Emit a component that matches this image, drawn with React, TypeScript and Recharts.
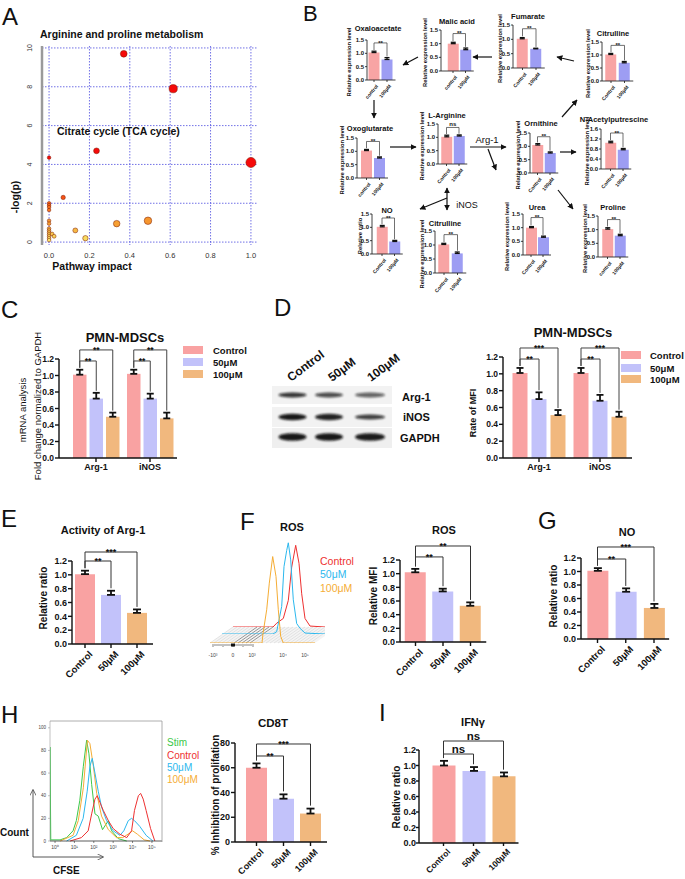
import React from "react";
import {
  BarChart,
  Bar,
  XAxis,
  YAxis,
  Cell,
  ErrorBar,
  ReferenceLine,
  ScatterChart,
  Scatter,
  ZAxis,
  CartesianGrid,
  LineChart,
  Line,
} from "recharts";

const FONT = '"Liberation Sans", Arial, Helvetica, sans-serif';
const INK = "#111";

// ---------- A: pathway impact ----------
const aImpact = [0.37, 0.615, 0.235, 1.0, 0, 0.07, 0, 0, 0, 0, 0, 0, 0, 0, 0, 0, 0, 0, 0, 0.015, 0.025, 0.13, 0.18, 0.335, 0.49];
const aLogP = [9.7, 7.9, 4.7, 4.1, 4.35, 2.3, 2.0, 1.9, 1.8, 1.65, 1.1, 0.95, 0.7, 0.6, 0.5, 0.4, 0.3, 0.2, 0.1, 0.42, 0.3, 0.6, 0.2, 0.95, 1.1];
const aXTicks = [0, 0.2, 0.4, 0.6, 0.8, 1.0];
const aYTicks = [0, 2, 4, 6, 8, 10];

// ---------- B: metabolite map ----------
const bTitles = ["Oxaloacetate", "Malic acid", "Fumarate", "Citrulline", "Oxoglutarate", "L-Arginine", "Ornithine", "N-Acetylputrescine", "NO", "Citrulline", "Urea", "Proline"];
const bCtrlLabel = ["control", "control", "Control", "Control", "control", "Control", "Control", "Control", "Control", "Control", "Control", "control"];
const bCtrl = [1.03, 1.0, 1.02, 1.02, 1.03, 1.02, 1.05, 1.05, 1.02, 1.02, 1.0, 1.02];
const bCtrlErr = [0.05, 0.05, 0.04, 0.04, 0.04, 0.06, 0.05, 0.06, 0.05, 0.04, 0.04, 0.05];
const bTrt = [0.77, 0.78, 0.67, 0.7, 0.75, 1.05, 0.75, 0.77, 0.47, 0.7, 0.65, 0.78];
const bTrtErr = [0.07, 0.06, 0.02, 0.05, 0.04, 0.04, 0.04, 0.05, 0.04, 0.05, 0.04, 0.05];
const bSig = ["**", "**", "**", "**", "**", "ns", "**", "**", "**", "**", "**", "**"];
const bSigLevel = [1.39, 1.37, 1.37, 1.37, 1.37, 1.37, 1.36, 1.44, 1.35, 1.37, 1.37, 1.37];
const bYLabel = bTitles.map((t) => (t === "NO" ? "Relative ratio" : "Relative expression level"));
const bTicks15 = [0, 0.5, 1.0, 1.5];
const bTicks16 = [0, 0.4, 0.8, 1.2, 1.6];
const bLayout = [
  { x0: 367, top: 40, zero: 80, c0: 374, step: 13, tx: 378, ty: 28, lx: 349 },
  { x0: 441, top: 30, zero: 71, c0: 453, step: 12.5, tx: 457, ty: 21, lx: 425 },
  { x0: 513, top: 25, zero: 68, c0: 522.5, step: 13.5, tx: 528, ty: 16, lx: 500 },
  { x0: 602, top: 42, zero: 81, c0: 611, step: 13.5, tx: 613, ty: 33, lx: 588 },
  { x0: 357, top: 138, zero: 178, c0: 366.5, step: 13, tx: 370, ty: 128, lx: 342 },
  { x0: 438, top: 124, zero: 164, c0: 446.5, step: 12.5, tx: 447, ty: 115, lx: 422 },
  { x0: 530, top: 133, zero: 173, c0: 537.5, step: 12.5, tx: 541, ty: 123, lx: 518 },
  { x0: 601, top: 129, zero: 169, c0: 610.5, step: 12.5, tx: 614, ty: 119, lx: 587 },
  { x0: 372, top: 214, zero: 254, c0: 382, step: 12.5, tx: 387, ty: 210, lx: 360 },
  { x0: 435, top: 231, zero: 273, c0: 444, step: 13.5, tx: 445, ty: 223, lx: 422 },
  { x0: 523, top: 214, zero: 255, c0: 531, step: 12, tx: 537, ty: 207, lx: 507 },
  { x0: 598, top: 216, zero: 257, c0: 607.5, step: 12.5, tx: 613, ty: 207, lx: 585 },
];
const bArrows = [
  [418, 57, 403, 65],
  [492, 57, 473, 57],
  [574, 61, 557, 57],
  [374, 100, 374, 118],
  [390, 147, 416, 147],
  [470, 147, 506, 147],
  [488, 149, 496, 170],
  [562, 117, 577, 100],
  [560, 152, 576, 152],
  [558, 190, 573, 209],
  [447, 198, 420, 209],
  [447, 198, 447, 188],
  [447, 198, 447, 210],
];

// ---------- shared doses ----------
const doses = ["Control", "50μM", "100μM"];
const doseColors = ["#f9a2a2", "#c2c2fa", "#f1b87e"];
const bColors = ["#f8a4a4", "#9d9df3"];
const ticks12 = [0, 0.2, 0.4, 0.6, 0.8, 1.0, 1.2];

// ---------- C: mRNA ----------
const genes = ["Arg-1", "iNOS"];
const cCtrl = [1.01, 1.02];
const c50 = [0.72, 0.72];
const c100 = [0.5, 0.48];
const cCtrlErr = [0.06, 0.05];
const c50Err = [0.07, 0.06];
const c100Err = [0.05, 0.07];
const cSigLevels = [1.176, 1.31];
const cSigTexts = [["**", "**"], ["**", "**"]];

// ---------- D: MFI + blot ----------
const dCtrl = [1.01, 1.01];
const d50 = [0.7, 0.68];
const d100 = [0.51, 0.49];
const dCtrlErr = [0.06, 0.06];
const d50Err = [0.08, 0.07];
const d100Err = [0.06, 0.06];
const dSigLevels = [1.176, 1.307];
const dSigTexts = [["**", "***"], ["**", "***"]];
const blotRows = ["Arg-1", "iNOS", "GAPDH"];
const blotArg1 = [0.82, 0.72, 0.62];
const blotInos = [0.95, 0.9, 0.78];
const blotGapdh = [0.95, 0.95, 0.93];

// ---------- E / F / G / H / I ----------
const eVals = [1.01, 0.71, 0.45];
const eErr = [0.05, 0.06, 0.05];
const rosVals = [1.02, 0.74, 0.53];
const rosErr = [0.05, 0.04, 0.05];
const noVals = [1.01, 0.7, 0.46];
const noErr = [0.04, 0.05, 0.06];
const cd8Vals = [60, 35, 23];
const cd8Err = [3.5, 3.5, 4];
const ifnVals = [1.0, 0.93, 0.86];
const ifnErr = [0.06, 0.05, 0.05];

// ROS offset histogram layers (channel, % of max)
const rosRedX = [0, 40, 43.7, 50.3, 55.3, 58.7, 62.7, 66, 68.7, 72, 77, 92];
const rosRedY = [0, 0, 4, 9, 28, 63, 86, 67, 35, 9, 1, 0];
const rosCyanX = [0, 51, 54.7, 59.7, 62, 64.7, 66.3, 68.7, 71.3, 74.7, 78, 83, 103];
const rosCyanY = [0, 0, 2.5, 29, 71, 88, 96, 78, 36, 11, 6, 1, 0];
const rosOrangeX = [0, 52, 53, 56.7, 59.3, 62.7, 66, 68.3, 70.7, 73.3, 105];
const rosOrangeY = [0, 0, 10, 35, 63, 91, 70, 35, 7, 0, 0];

// CFSE histograms (log10 fluorescence, count)
const stimX = [-0.26, -0.26, -0.22, 0.26, 0.6, 0.93, 1.1, 1.28, 1.46, 1.63, 1.75, 1.89, 2.06, 2.23, 2.45, 2.75, 2.92, 3.27, 3.7];
const stimY = [0, 83, 1, 1, 3, 9, 18, 36, 66, 89, 77, 50, 24, 22, 10, 18, 9, 2, 0];
const ctrlX = [0.78, 1.36, 1.71, 1.89, 2.06, 2.18, 2.32, 2.49, 2.75, 3.0, 3.35, 3.7, 3.95, 4.1, 4.3, 4.42, 4.55, 4.7, 4.93, 5.15];
const ctrlY = [0, 3, 9, 24, 37, 40, 34, 27, 18, 11, 6, 3, 9, 27, 40, 42, 37, 27, 11, 0];
const m50X = [0.6, 1.1, 1.45, 1.66, 1.8, 1.92, 2.06, 2.23, 2.4, 2.66, 3.0, 3.35, 3.55, 3.78, 3.95, 4.1, 4.37, 4.7, 5.05];
const m50Y = [0, 5, 20, 44, 66, 73, 60, 44, 30, 18, 9, 5, 9, 18, 20, 18, 13, 5, 0];
const m100X = [0.26, 0.93, 1.2, 1.46, 1.67, 1.8, 1.98, 2.15, 2.4, 2.75, 3.17, 3.5, 3.85, 4.0, 4.25, 4.6, 4.9];
const m100Y = [0, 5, 18, 47, 89, 86, 66, 42, 22, 10, 3, 3, 7, 9, 6, 1, 0];
const sup = ["⁰", "¹", "²", "³", "⁴", "⁵"];

const flowRed = "#ee3030";
const flowCyan = "#2bb8ee";
const flowOrange = "#f5ad35";
const flowGreen = "#3cc84a";

function impactColor(y: number) {
  const t = Math.min(1, Math.pow(y / 4, 0.6));
  const h = 58 * (1 - t);
  const l = 50 + 25 * (1 - t) * (1 - t);
  return `hsl(${h}, 92%, ${l}%)`;
}

function sigText(x: number, yl: number, text: string, fs: number) {
  const star = text.includes("*");
  return (
    <text x={x} y={star ? yl - 1 + 0.45 * fs : yl - 1.5} textAnchor="middle" fontSize={fs} fontWeight="bold" fill={INK}>
      {text}
    </text>
  );
}

function RotTick(props: any) {
  const { x, y, payload, fsz, rot } = props;
  return (
    <g transform={`translate(${x + fsz * 0.35},${y + 2}) rotate(${rot})`}>
      <text x={0} y={0} dy={fsz * 0.72} textAnchor="end" fontSize={fsz} fontWeight="bold" fill={INK}>
        {payload.value}
      </text>
    </g>
  );
}

function SigBars(props: any) {
  const {
    x0, yTop, yZero, c0, step, padR = 2, cats, vals, errs, colors, ticks, dec = 1,
    tickFs, catFs, rot, sigPairs, sigLevels, sigTexts, sigFs, barSize, capW,
    tickSize = 4, yTickMargin = 1, axisW = 1.4, capStroke = 1.8, gap = 0.03, bracketW = 1,
  } = props;
  const AX = 40;
  const PT = 24;
  const XH = 55;
  const n = cats.length;
  const padL = c0 - x0 - step / 2;
  const plotW = padL + step * n + padR;
  const top = ticks[ticks.length - 1];
  const data = cats.map((c: string, i: number) => ({ cat: c, v: vals[i], e: [0, errs[i]] }));
  const lp = { stroke: "#333", strokeWidth: bracketW, ifOverflow: "visible" as const };
  return (
    <div style={{ position: "absolute", left: x0 - AX, top: yTop - PT }}>
      <BarChart
        width={AX + plotW + 4}
        height={PT + (yZero - yTop) + XH}
        data={data}
        margin={{ top: PT, right: 4, bottom: 0, left: 0 }}
      >
        <XAxis
          dataKey="cat"
          interval={0}
          padding={{ left: padL, right: padR }}
          height={XH}
          axisLine={{ stroke: INK, strokeWidth: axisW }}
          tickLine={{ stroke: INK, strokeWidth: axisW }}
          tickSize={tickSize}
          tickMargin={0}
          tick={<RotTick fsz={catFs} rot={rot} />}
        />
        <YAxis
          width={AX}
          domain={[0, top]}
          ticks={ticks}
          interval={0}
          tickFormatter={(v: number) => v.toFixed(dec)}
          axisLine={{ stroke: INK, strokeWidth: axisW }}
          tickLine={{ stroke: INK, strokeWidth: axisW }}
          tickSize={tickSize}
          tickMargin={yTickMargin}
          tick={{ fontSize: tickFs, fontWeight: "bold", fill: INK }}
        />
        <Bar dataKey="v" barSize={barSize} isAnimationActive={false}>
          {cats.map((c: string, i: number) => (
            <Cell key={c} fill={colors[i]} />
          ))}
          <ErrorBar dataKey="e" width={capW} strokeWidth={capStroke} stroke={INK} direction="y" />
        </Bar>
        {sigPairs.map(([a, b]: number[], k: number) => {
          const lv = sigLevels[k];
          return [
            <ReferenceLine
              key={`h${k}`}
              segment={[{ x: cats[a], y: lv }, { x: cats[b], y: lv }]}
              {...lp}
              label={(l: any) => {
                const vb = l.viewBox || {};
                return sigText(vb.x + (vb.width || 0) / 2, vb.y, sigTexts[k], sigFs);
              }}
            />,
            <ReferenceLine key={`l${k}`} segment={[{ x: cats[a], y: lv }, { x: cats[a], y: vals[a] + errs[a] + top * gap }]} {...lp} />,
            <ReferenceLine key={`r${k}`} segment={[{ x: cats[b], y: lv }, { x: cats[b], y: vals[b] + errs[b] + top * gap }]} {...lp} />,
          ];
        })}
      </BarChart>
    </div>
  );
}

function GroupBars(props: any) {
  const { x0, yTop, yZero, c0, band, padR, vals, errs, sigLevels, sigTexts, barSize, barGap } = props;
  const AX = 40;
  const PT = 24;
  const XH = 22;
  const padL = c0 - x0 - band / 2;
  const plotW = padL + band * genes.length + padR;
  const data = genes.map((g, gi) => {
    const row: any = { cat: g };
    vals.forEach((v: number[], si: number) => {
      row["s" + si] = v[gi];
      row["e" + si] = [0, errs[si][gi]];
    });
    return row;
  });
  const bracketShape = (bp: any) => {
    const { x, y, width, height, index } = bp;
    const per = height / vals[0][index];
    const base = y + height;
    const Y = (v: number) => base - v * per;
    const cx = x + width / 2;
    const stepPx = width + barGap;
    return (
      <g>
        <rect x={x} y={y} width={width} height={height} fill={doseColors[0]} />
        {sigLevels.map((lv: number, k: number) => {
          const j = k + 1;
          const cj = cx + stepPx * j;
          const yl = Y(lv);
          const yc = Y(vals[0][index] + errs[0][index]) - 2;
          const yj = Y(vals[j][index] + errs[j][index]) - 2;
          return (
            <g key={k}>
              <polyline points={`${cx},${yc} ${cx},${yl} ${cj},${yl} ${cj},${yj}`} fill="none" stroke="#444" strokeWidth={1} />
              {sigText((cx + cj) / 2, yl, sigTexts[index][k], 8.5)}
            </g>
          );
        })}
      </g>
    );
  };
  return (
    <div style={{ position: "absolute", left: x0 - AX, top: yTop - PT }}>
      <BarChart
        width={AX + plotW + 2}
        height={PT + (yZero - yTop) + XH}
        data={data}
        barGap={barGap}
        margin={{ top: PT, right: 2, bottom: 0, left: 0 }}
      >
        <XAxis
          dataKey="cat"
          interval={0}
          padding={{ left: padL, right: padR }}
          height={XH}
          axisLine={{ stroke: INK, strokeWidth: 1.4 }}
          tickLine={{ stroke: INK, strokeWidth: 1.4 }}
          tickSize={4}
          tick={{ fontSize: 9, fontWeight: "bold", fill: INK }}
        />
        <YAxis
          width={AX}
          domain={[0, 1.2]}
          ticks={ticks12}
          interval={0}
          tickFormatter={(v: number) => v.toFixed(1)}
          axisLine={{ stroke: INK, strokeWidth: 1.4 }}
          tickLine={{ stroke: INK, strokeWidth: 1.4 }}
          tickSize={4}
          tickMargin={1}
          tick={{ fontSize: 8.5, fontWeight: "bold", fill: INK }}
        />
        {vals.map((v: number[], si: number) => (
          <Bar
            key={si}
            dataKey={"s" + si}
            fill={doseColors[si]}
            barSize={barSize}
            isAnimationActive={false}
            {...(si === 0 ? { shape: bracketShape } : {})}
          >
            <ErrorBar dataKey={"e" + si} width={3.5} strokeWidth={1.8} stroke={INK} direction="y" />
          </Bar>
        ))}
      </BarChart>
    </div>
  );
}

function PathwayChart() {
  const pts = aImpact.map((x, i) => ({ x, y: aLogP[i] }));
  const YTick = ({ x, y, payload }: any) => (
    <text x={x - 2} y={y} transform={`rotate(-90 ${x - 2} ${y})`} textAnchor="middle" fontSize={7} fill="#333">
      {payload.value}
    </text>
  );
  return (
    <div style={{ position: "absolute", left: 16, top: 0 }}>
      <ScatterChart width={246} height={267} margin={{ top: 46, right: 4, bottom: 0, left: 0 }}>
        <CartesianGrid
          stroke="#4d4de0"
          strokeDasharray="1.5 1.5"
          strokeWidth={0.8}
          horizontalValues={aYTicks}
          verticalValues={aXTicks}
        />
        <XAxis
          type="number"
          dataKey="x"
          domain={[-0.035, 1.035]}
          ticks={aXTicks}
          tickFormatter={(v: number) => v.toFixed(1)}
          axisLine={false}
          tickLine={false}
          height={22}
          tick={{ fontSize: 7.5, fill: "#333" }}
        />
        <YAxis
          type="number"
          dataKey="y"
          domain={[-0.15, 10.1]}
          ticks={aYTicks}
          width={26}
          axisLine={{ stroke: "#9a9a9a", strokeWidth: 2.5 }}
          tickLine={false}
          tick={<YTick />}
        />
        <ZAxis type="number" dataKey="x" range={[10, 80]} />
        <Scatter data={pts} isAnimationActive={false} stroke="#7a1800" strokeWidth={0.5}>
          {pts.map((p, i) => (
            <Cell key={i} fill={impactColor(p.y)} />
          ))}
        </Scatter>
      </ScatterChart>
    </div>
  );
}

function RosLayer({ left, base, xs, ys, color }: any) {
  const data = xs.map((x: number, i: number) => ({ x, y: ys[i] }));
  return (
    <div style={{ position: "absolute", left, top: base - 95 }}>
      <LineChart width={105} height={95} data={data} margin={{ top: 0, right: 0, bottom: 0, left: 0 }}>
        <XAxis type="number" dataKey="x" domain={[0, 105]} hide />
        <YAxis type="number" domain={[0, 100]} hide />
        <Line dataKey="y" type="linear" stroke={color} strokeWidth={1} dot={false} isAnimationActive={false} />
      </LineChart>
    </div>
  );
}

function CfseHistogram() {
  const series = [
    { xs: stimX, ys: stimY, c: flowGreen },
    { xs: m100X, ys: m100Y, c: flowOrange },
    { xs: m50X, ys: m50Y, c: flowCyan },
    { xs: ctrlX, ys: ctrlY, c: flowRed },
  ];
  return (
    <div style={{ position: "absolute", left: 38, top: 721 }}>
      <LineChart width={124} height={134} margin={{ top: 0, right: 0, bottom: 0, left: 0 }}>
        <XAxis
          type="number"
          dataKey="x"
          domain={[-0.26, 5.52]}
          ticks={[0, 1, 2, 3, 4, 5]}
          tickFormatter={(v: number) => "10" + sup[v]}
          height={14}
          tickSize={2}
          allowDataOverflow
          axisLine={{ stroke: "#333", strokeWidth: 0.8 }}
          tickLine={{ stroke: "#333", strokeWidth: 0.6 }}
          tick={{ fontSize: 5, fill: "#444" }}
        />
        <YAxis
          type="number"
          domain={[0, 106]}
          ticks={[0, 20, 40, 60, 80, 100]}
          width={12}
          tickSize={2}
          axisLine={{ stroke: "#999", strokeWidth: 0.6 }}
          tickLine={{ stroke: "#999", strokeWidth: 0.6 }}
          tick={{ fontSize: 4.5, fill: "#444" }}
        />
        {series.map((s, i) => (
          <Line
            key={i}
            data={s.xs.map((x, j) => ({ x, y: s.ys[j] }))}
            dataKey="y"
            type="linear"
            stroke={s.c}
            strokeWidth={1}
            dot={false}
            isAnimationActive={false}
          />
        ))}
      </LineChart>
    </div>
  );
}

const T = ({ x, y, fs, w = "bold", a = "middle", fill = INK, rot = 0, children }: any) => (
  <text
    x={x}
    y={y}
    fontSize={fs}
    fontWeight={w}
    textAnchor={a}
    fill={fill}
    dominantBaseline="central"
    transform={rot ? `rotate(${rot} ${x} ${y})` : undefined}
  >
    {children}
  </text>
);

function UnderLayer() {
  const lines = [];
  for (let k = 0; k <= 100; k += 4) {
    const x1 = 210 + k;
    const x2 = Math.min(233 + k, 325);
    const dark = k >= 22 && k <= 42;
    lines.push(<line key={k} x1={x1} y1={643} x2={x2} y2={x2 === 233 + k ? 627 : 643 - ((x2 - x1) * 16) / 23} stroke={dark ? "#8a8a8a" : "#cfcfcf"} strokeWidth={dark ? 0.9 : 0.5} />);
  }
  return (
    <svg width={685} height={879} style={{ position: "absolute", left: 0, top: 0 }}>
      <polygon points="210,643 315,643 325,636 325,627 233,627" fill="#f4f4f4" />
      {lines}
    </svg>
  );
}

function Overlay() {
  const blotLaneX = [292.5, 329, 370];
  const blotRowY = [395, 417, 437];
  const blotRy = [2.4, 3.2, 3.8];
  const blotInt = [blotArg1, blotInos, blotGapdh];
  return (
    <svg width={685} height={879} style={{ position: "absolute", left: 0, top: 0, pointerEvents: "none" }}>
      <defs>
        <marker id="ah" viewBox="0 0 10 10" refX="9" refY="5" markerWidth="5" markerHeight="5" orient="auto-start-reverse">
          <path d="M0,0 L10,5 L0,10 z" fill={INK} />
        </marker>
        <marker id="oh" viewBox="0 0 10 10" refX="9" refY="5" markerWidth="7" markerHeight="7" orient="auto">
          <path d="M0,0 L10,5 L0,10" fill="none" stroke="#444" strokeWidth="1.2" />
        </marker>
        <filter id="blur" x="-20%" y="-80%" width="140%" height="260%">
          <feGaussianBlur stdDeviation="1" />
        </filter>
      </defs>

      {/* panel letters */}
      {[
        ["A", 2, 25], ["B", 303, 21], ["C", 1, 318], ["D", 274, 316], ["E", 1, 527],
        ["F", 240, 530], ["G", 538, 529], ["H", 1, 723], ["I", 379, 721],
      ].map(([l, x, y]: any) => (
        <text key={l} x={x} y={y} fontSize={l === "B" ? 22 : 24} fill={INK}>{l}</text>
      ))}

      {/* A */}
      <T x={40} y={34} fs={10.5} a="start">Arginine and proline metabolism</T>
      <T x={57} y={131} fs={10.5} a="start">Citrate cycle (TCA cycle)</T>
      <T x={15} y={197} fs={10.5} rot={-90}>-log(p)</T>
      <T x={92} y={266} fs={10.5}>Pathway impact</T>

      {/* B */}
      {bLayout.map((L, i) => (
        <g key={i}>
          <T x={L.tx} y={L.ty} fs={7.5}>{bTitles[i]}</T>
          <T x={L.lx} y={(L.top + L.zero) / 2 + 2} fs={5.8} rot={-90}>{bYLabel[i]}</T>
        </g>
      ))}
      {bArrows.map(([x1, y1, x2, y2], i) => (
        <line key={i} x1={x1} y1={y1} x2={x2} y2={y2} stroke={INK} strokeWidth={1.2} markerEnd="url(#ah)" />
      ))}
      <T x={487} y={139} fs={9.5} w="normal">Arg-1</T>
      <T x={467} y={205} fs={9} w="normal">iNOS</T>

      {/* C */}
      <T x={125} y={337} fs={13}>PMN-MDSCs</T>
      <T x={22} y={410} fs={9.5} w="normal" rot={-90}>mRNA analysis</T>
      <T x={37} y={406} fs={9.5} w="normal" rot={-90}>Fold change normalized to GAPDH</T>
      {doses.map((d, i) => (
        <g key={d}>
          <rect x={183} y={[350, 362, 374][i] - 4} width={20} height={8} fill={doseColors[i]} />
          <T x={213} y={[350, 362, 374][i]} fs={9.5} a="start">{d}</T>
        </g>
      ))}

      {/* D blot */}
      {doses.map((d, i) => (
        <text key={d} x={[291, 332, 371][i]} y={382} fontSize={12} fontWeight="bold" fill={INK} transform={`rotate(-37 ${[291, 332, 371][i]} 382)`}>{d}</text>
      ))}
      <rect x={272} y={386} width={120} height={18} fill="#f2f2f2" />
      <rect x={272} y={407} width={120} height={20} fill="#f2f2f2" />
      <rect x={272} y={428} width={120} height={20} fill="#efefef" />
      {blotRows.map((r, ri) => (
        <g key={r}>
          {blotLaneX.map((cx, li) => (
            <ellipse
              key={li}
              cx={cx}
              cy={blotRowY[ri]}
              rx={li === 2 ? 15 : 14}
              ry={ri === 1 && li === 2 ? 2.5 : blotRy[ri]}
              fill="#0c0c0c"
              opacity={blotInt[ri][li]}
              filter="url(#blur)"
            />
          ))}
          <T x={[402, 403, 400][ri]} y={[397, 417, 438][ri]} fs={11} a="start">{r}</T>
        </g>
      ))}

      {/* D chart */}
      <T x={573} y={332} fs={13}>PMN-MDSCs</T>
      <T x={473} y={413} fs={9} rot={-90}>Rate of MFI</T>
      {doses.map((d, i) => (
        <g key={d}>
          <rect x={621} y={[355, 368, 379][i] - 4} width={20} height={8} fill={doseColors[i]} />
          <T x={650} y={[355, 368, 379][i]} fs={9.5} a="start">{d}</T>
        </g>
      ))}

      {/* E */}
      <T x={103} y={530} fs={11}>Activity of Arg-1</T>
      <T x={43} y={598} fs={10} rot={-90}>Relative ratio</T>

      {/* F */}
      <T x={292} y={527} fs={11}>ROS</T>
      <T x={320} y={561} fs={10.5} w="normal" a="start" fill={flowRed}>Control</T>
      <T x={320} y={574} fs={10.5} w="normal" a="start" fill={flowCyan}>50μM</T>
      <T x={320} y={588} fs={10.5} w="normal" a="start" fill={flowOrange}>100μM</T>
      {Array.from({ length: 21 }, (_, k) => (
        <line key={k} x1={213 + k * 2} y1={644} x2={213 + k * 2} y2={k % 5 === 0 ? 647 : 646} stroke="#333" strokeWidth={0.6} />
      ))}
      <rect x={231} y={643.5} width={4} height={3} fill="#111" />
      {[["-10³", 213], ["0", 233], ["10³", 252], ["10⁴", 283], ["10⁵", 305]].map(([s, x]: any) => (
        <T key={s} x={x} y={655} fs={5} w="normal" fill="#444">{s}</T>
      ))}
      <T x={444} y={530} fs={11}>ROS</T>
      <T x={373} y={596} fs={10} rot={-90}>Relative MFI</T>

      {/* G */}
      <T x={627} y={532} fs={11}>NO</T>
      <T x={553} y={596} fs={10} rot={-90}>Relative ratio</T>

      {/* H */}
      <polyline points="50,721 162,721 162,842" fill="none" stroke="#9a9a9a" strokeWidth={0.8} />
      <line x1={33} y1={857} x2={33} y2={790} stroke="#444" strokeWidth={0.9} markerEnd="url(#oh)" />
      <line x1={33} y1={857} x2={103} y2={857} stroke="#444" strokeWidth={0.9} markerEnd="url(#oh)" />
      <T x={0} y={832} fs={10} a="start">Count</T>
      <T x={53} y={870} fs={10} a="start">CFSE</T>
      <T x={167} y={742} fs={10} w="normal" a="start" fill={flowGreen}>Stim</T>
      <T x={167} y={755} fs={10} w="normal" a="start" fill={flowRed}>Control</T>
      <T x={167} y={767} fs={10} w="normal" a="start" fill={flowCyan}>50μM</T>
      <T x={167} y={779} fs={10} w="normal" a="start" fill={flowOrange}>100μM</T>
      <T x={273} y={723} fs={11.5}>CD8T</T>
      <T x={215} y={795} fs={10} rot={-90}>% Inhibition of prolifation</T>

      {/* I */}
      <T x={473} y={722} fs={11}>IFNγ</T>
      <T x={396} y={797} fs={10} rot={-90}>Relative ratio</T>
    </svg>
  );
}

export default function App() {
  const common = { tickFs: 9, catFs: 9.5, rot: -45, sigFs: 9, capW: 4, tickSize: 4, sigPairs: [[0, 1], [0, 2]] };
  return (
    <div
      style={{
        position: "absolute",
        left: 0,
        top: 0,
        width: 685,
        height: 879,
        overflow: "hidden",
        background: "#fff",
        fontFamily: FONT,
        color: INK,
      }}
    >
      <UnderLayer />
      <PathwayChart />

      {bLayout.map((L, i) => (
        <SigBars
          key={i}
          x0={L.x0}
          yTop={L.top}
          yZero={L.zero}
          c0={L.c0}
          step={L.step}
          padR={2}
          cats={[bCtrlLabel[i], "100μM"]}
          vals={[bCtrl[i], bTrt[i]]}
          errs={[bCtrlErr[i], bTrtErr[i]]}
          colors={bColors}
          ticks={i === 7 ? bTicks16 : bTicks15}
          tickFs={6}
          catFs={5}
          rot={-50}
          sigPairs={[[0, 1]]}
          sigLevels={[bSigLevel[i]]}
          sigTexts={[bSig[i]]}
          sigFs={6}
          barSize={11}
          capW={2.5}
          capStroke={1.3}
          tickSize={2}
          axisW={0.8}
          bracketW={0.7}
        />
      ))}

      <GroupBars
        x0={59}
        yTop={359}
        yZero={458}
        c0={96}
        band={54}
        padR={0}
        vals={[cCtrl, c50, c100]}
        errs={[cCtrlErr, c50Err, c100Err]}
        sigLevels={cSigLevels}
        sigTexts={cSigTexts}
        barSize={13.5}
        barGap={3}
      />
      <GroupBars
        x0={503}
        yTop={357}
        yZero={458}
        c0={539}
        band={61}
        padR={1.5}
        vals={[dCtrl, d50, d100]}
        errs={[dCtrlErr, d50Err, d100Err]}
        sigLevels={dSigLevels}
        sigTexts={dSigTexts}
        barSize={15}
        barGap={4}
      />

      <SigBars {...common} x0={72} yTop={561} yZero={644} c0={85} step={26} padR={3}
        cats={doses} vals={eVals} errs={eErr} colors={doseColors} ticks={ticks12}
        sigLevels={[1.2, 1.33]} sigTexts={["**", "***"]} barSize={20} />

      <RosLayer left={233} base={627} xs={rosRedX} ys={rosRedY} color={flowRed} />
      <RosLayer left={222} base={634} xs={rosCyanX} ys={rosCyanY} color={flowCyan} />
      <RosLayer left={210} base={643} xs={rosOrangeX} ys={rosOrangeY} color={flowOrange} />

      <SigBars {...common} x0={400} yTop={560} yZero={642} c0={415.5} step={27.5} padR={2}
        cats={doses} vals={rosVals} errs={rosErr} colors={doseColors} ticks={ticks12}
        sigLevels={[1.245, 1.405]} sigTexts={["**", "**"]} barSize={21} />

      <SigBars {...common} x0={581} yTop={558} yZero={639} c0={597.5} step={28.25} padR={1}
        cats={doses} vals={noVals} errs={noErr} colors={doseColors} ticks={ticks12}
        sigLevels={[1.185, 1.363]} sigTexts={["**", "***"]} barSize={21} />

      <CfseHistogram />

      <SigBars {...common} x0={235} yTop={743} yZero={842} c0={256.5} step={27} padR={3}
        cats={doses} vals={cd8Vals} errs={cd8Err} colors={doseColors} ticks={[0, 20, 40, 60, 80]} dec={0}
        sigLevels={[69.5, 79.2]} sigTexts={["**", "***"]} barSize={21} catFs={9} />

      <SigBars {...common} x0={419} yTop={750} yZero={843} c0={443.5} step={30} padR={0}
        cats={doses} vals={ifnVals} errs={ifnErr} colors={doseColors} ticks={ticks12}
        sigLevels={[1.148, 1.316]} sigTexts={["ns", "ns"]} sigFs={11.5} barSize={23} catFs={8.5}
        tickSize={3} yTickMargin={0} />

      <Overlay />
    </div>
  );
}
